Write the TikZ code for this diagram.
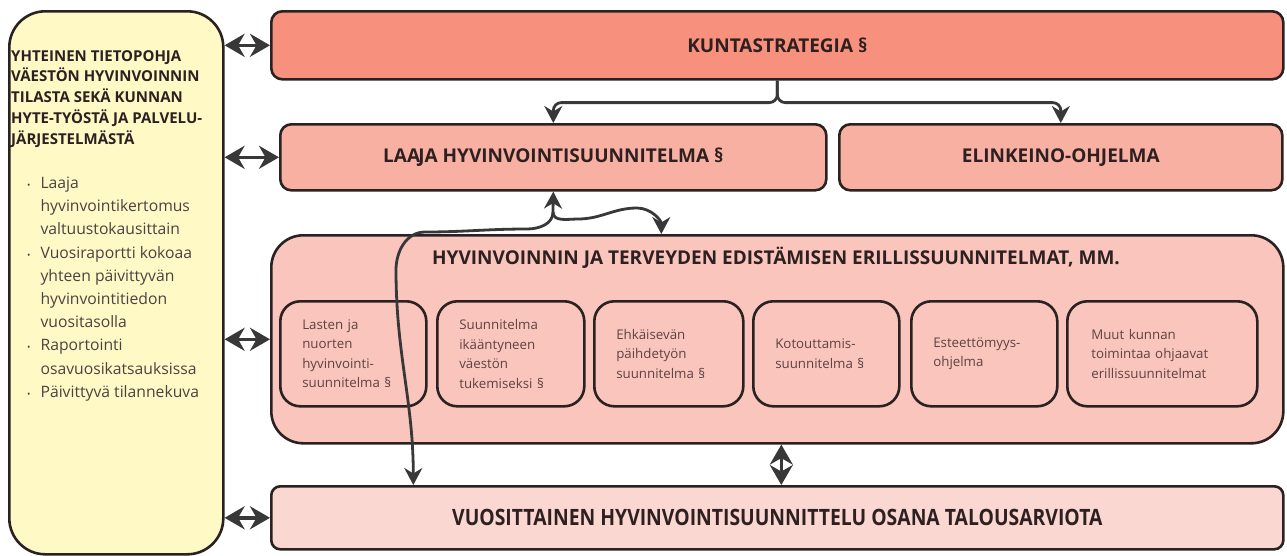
\documentclass[tikz,border=0pt]{standalone}
\usepackage{fontspec}
\setmainfont{Open Sans}
\usetikzlibrary{arrows.meta}
\definecolor{edge}{HTML}{2A2222}
\definecolor{arr}{HTML}{383838}
\definecolor{txt}{HTML}{2E2020}
\definecolor{subtxt}{HTML}{5E4242}
\definecolor{cYellow}{HTML}{FFF9C6}
\definecolor{cKunta}{HTML}{F7917E}
\definecolor{cLaaja}{HTML}{F8B0A3}
\definecolor{cHyte}{HTML}{F9C5BC}
\definecolor{cBottom}{HTML}{FAD7D1}
\begin{document}
\begin{tikzpicture}[x=1pt,y=-1pt,
  box/.style={draw=edge, line width=2.6pt, rounded corners=11pt, anchor=north west, inner sep=0pt},
  subbox/.style={draw=edge, line width=2.6pt, rounded corners=20pt, anchor=north west, minimum height=105pt,
     inner xsep=22pt, align=left, text=subtxt, font=\fontsize{13.3}{19.5}\selectfont},
  ttl/.style={font=\fontsize{19}{22}\selectfont\bfseries, text=txt},
  conn/.style={draw=arr, line width=2.8pt, -{Stealth[length=17pt,width=18pt]}},
  dbl/.style={draw=arr, line width=3.4pt, {Stealth[length=20pt,width=23pt]}-{Stealth[length=20pt,width=23pt]}},
]
\useasboundingbox (0,0) rectangle (1287,555);

% boxes
\node[box, fill=cYellow, rounded corners=36pt, minimum width=214pt, minimum height=543pt] (ybox) at (8,10) {};
\node[box, fill=cKunta, minimum width=1012pt, minimum height=68pt] (kunta) at (270,10) {};
\node[box, fill=cLaaja, minimum width=546pt, minimum height=66pt] (laaja) at (279,123) {};
\node[box, fill=cLaaja, minimum width=443pt, minimum height=66pt] (elin) at (838,123) {};
\node[box, fill=cHyte, rounded corners=32pt, minimum width=1012pt, minimum height=208pt] (hyte) at (270,234) {};
\node[box, fill=cBottom, rounded corners=9pt, minimum width=1012pt, minimum height=63pt] (bottom) at (270,485) {};

% titles
\node[ttl] (kuntaT) at (kunta.center) {KUNTASTRATEGIA §};
\node[ttl] (laajaT) at (laaja.center) {LAA\kern-1.8pt JA HYVINVOINTISUUNNITELMA §};
\node[ttl] (elinT) at (elin.center) {ELINKEINO-OHJELMA};
\node[ttl] (hyteT) at (776,258) {HYVINVOINNIN JA TERVEYDEN EDISTÄMISEN ERILLISSUUNNITELMAT, MM.};
\node[ttl] (bottomT) at (bottom.center) {\scalebox{0.86}[1]{\fontsize{22.5}{24}\selectfont VUOSITTAINEN HYVINVOINTISUUNNITTELU OSANA TALOUSARVIOTA}};

% sub boxes
\node[subbox, minimum width=146pt, text width=102pt] (s1) at (279,300) {Lasten ja\\nuorten\\hyvinvointi-\\suunnitelma §};
\node[subbox, minimum width=147pt, text width=103pt] (s2) at (436,300) {Suunnitelma\\ikääntyneen\\väestön\\tukemiseksi §};
\node[subbox, minimum width=149pt, text width=105pt] (s3) at (593,300) {Ehkäisevän\\päihdetyön\\suunnitelma §};
\node[subbox, minimum width=146pt, text width=102pt] (s4) at (752,300) {Kotouttamis-\\suunnitelma §};
\node[subbox, minimum width=146pt, text width=102pt] (s5) at (910,300) {Esteettömyys-\\ohjelma};
\node[subbox, minimum width=190pt, text width=142pt, inner xsep=24pt] (s6) at (1066,300) {Muut kunnan\\toimintaa ohjaavat\\erillissuunnitelmat};

% yellow box text
\node[anchor=north west, inner sep=0pt, align=left, text=txt, font=\fontsize{15}{20.8}\selectfont\bfseries] (yT) at (11,50)
 {YHTEINEN TIETOPOHJA\\VÄESTÖN HYVINVOINNIN\\TILASTA SEKÄ KUNNAN\\HYTE-TYÖSTÄ JA PALVELU-\\JÄRJESTELMÄSTÄ};
\node[anchor=north west, inner sep=0pt, align=left, text=txt!85!white, font=\fontsize{15.7}{23.2}\selectfont] (yL) at (27,172)
 {\begin{tabular}{@{}l@{\hspace{10pt}}l@{}}
 {\fontsize{9}{10}\selectfont •} & Laaja\\
 & hyvinvointikertomus\\
 & valtuustokausittain\\
 {\fontsize{9}{10}\selectfont •} & Vuosiraportti kokoaa\\
 & yhteen päivittyvän\\
 & hyvinvointitiedon\\
 & vuositasolla\\
 {\fontsize{9}{10}\selectfont •} & Raportointi\\
 & osavuosikatsauksissa\\
 {\fontsize{9}{10}\selectfont •} & Päivittyvä tilannekuva
 \end{tabular}};

% yellow box arrows
\draw[dbl] (ybox.east |- kunta.west) -- (kunta.west);
\draw[dbl] (ybox.east |- laaja.west) -- (laaja.west);
\draw[dbl] (ybox.east |- hyte.west) -- (hyte.west);
\draw[dbl] (ybox.east |- bottom.west) -- (bottom.west);

% strategy split
\draw[conn, rounded corners=8pt] (kunta.south) -- ++(0,22) -| (laaja.north);
\draw[conn, rounded corners=8pt] (kunta.south) -- ++(0,22) -| (elin.north);

% hyte <-> bottom
\draw[dbl, line width=3pt] ([xshift=4pt]hyte.south) -- ([xshift=4pt]bottom.north);

% curvy connectors from Laaja
\coordinate (j) at (553,212);
\draw[conn] (j) -- (laaja.south);
\draw[conn] (j) to[out=-90,in=180] (578,219) to[out=0,in=180] (637,208) to[out=0,in=90] ([xshift=-116pt]hyte.north);
\draw[conn] (j) to[out=-90,in=0] (527,229) to[out=180,in=0] (425,232) to[out=180,in=90] (396,270)
   to[out=-90,in=90] ([xshift=-364pt]bottom.north);
\end{tikzpicture}
\end{document}
